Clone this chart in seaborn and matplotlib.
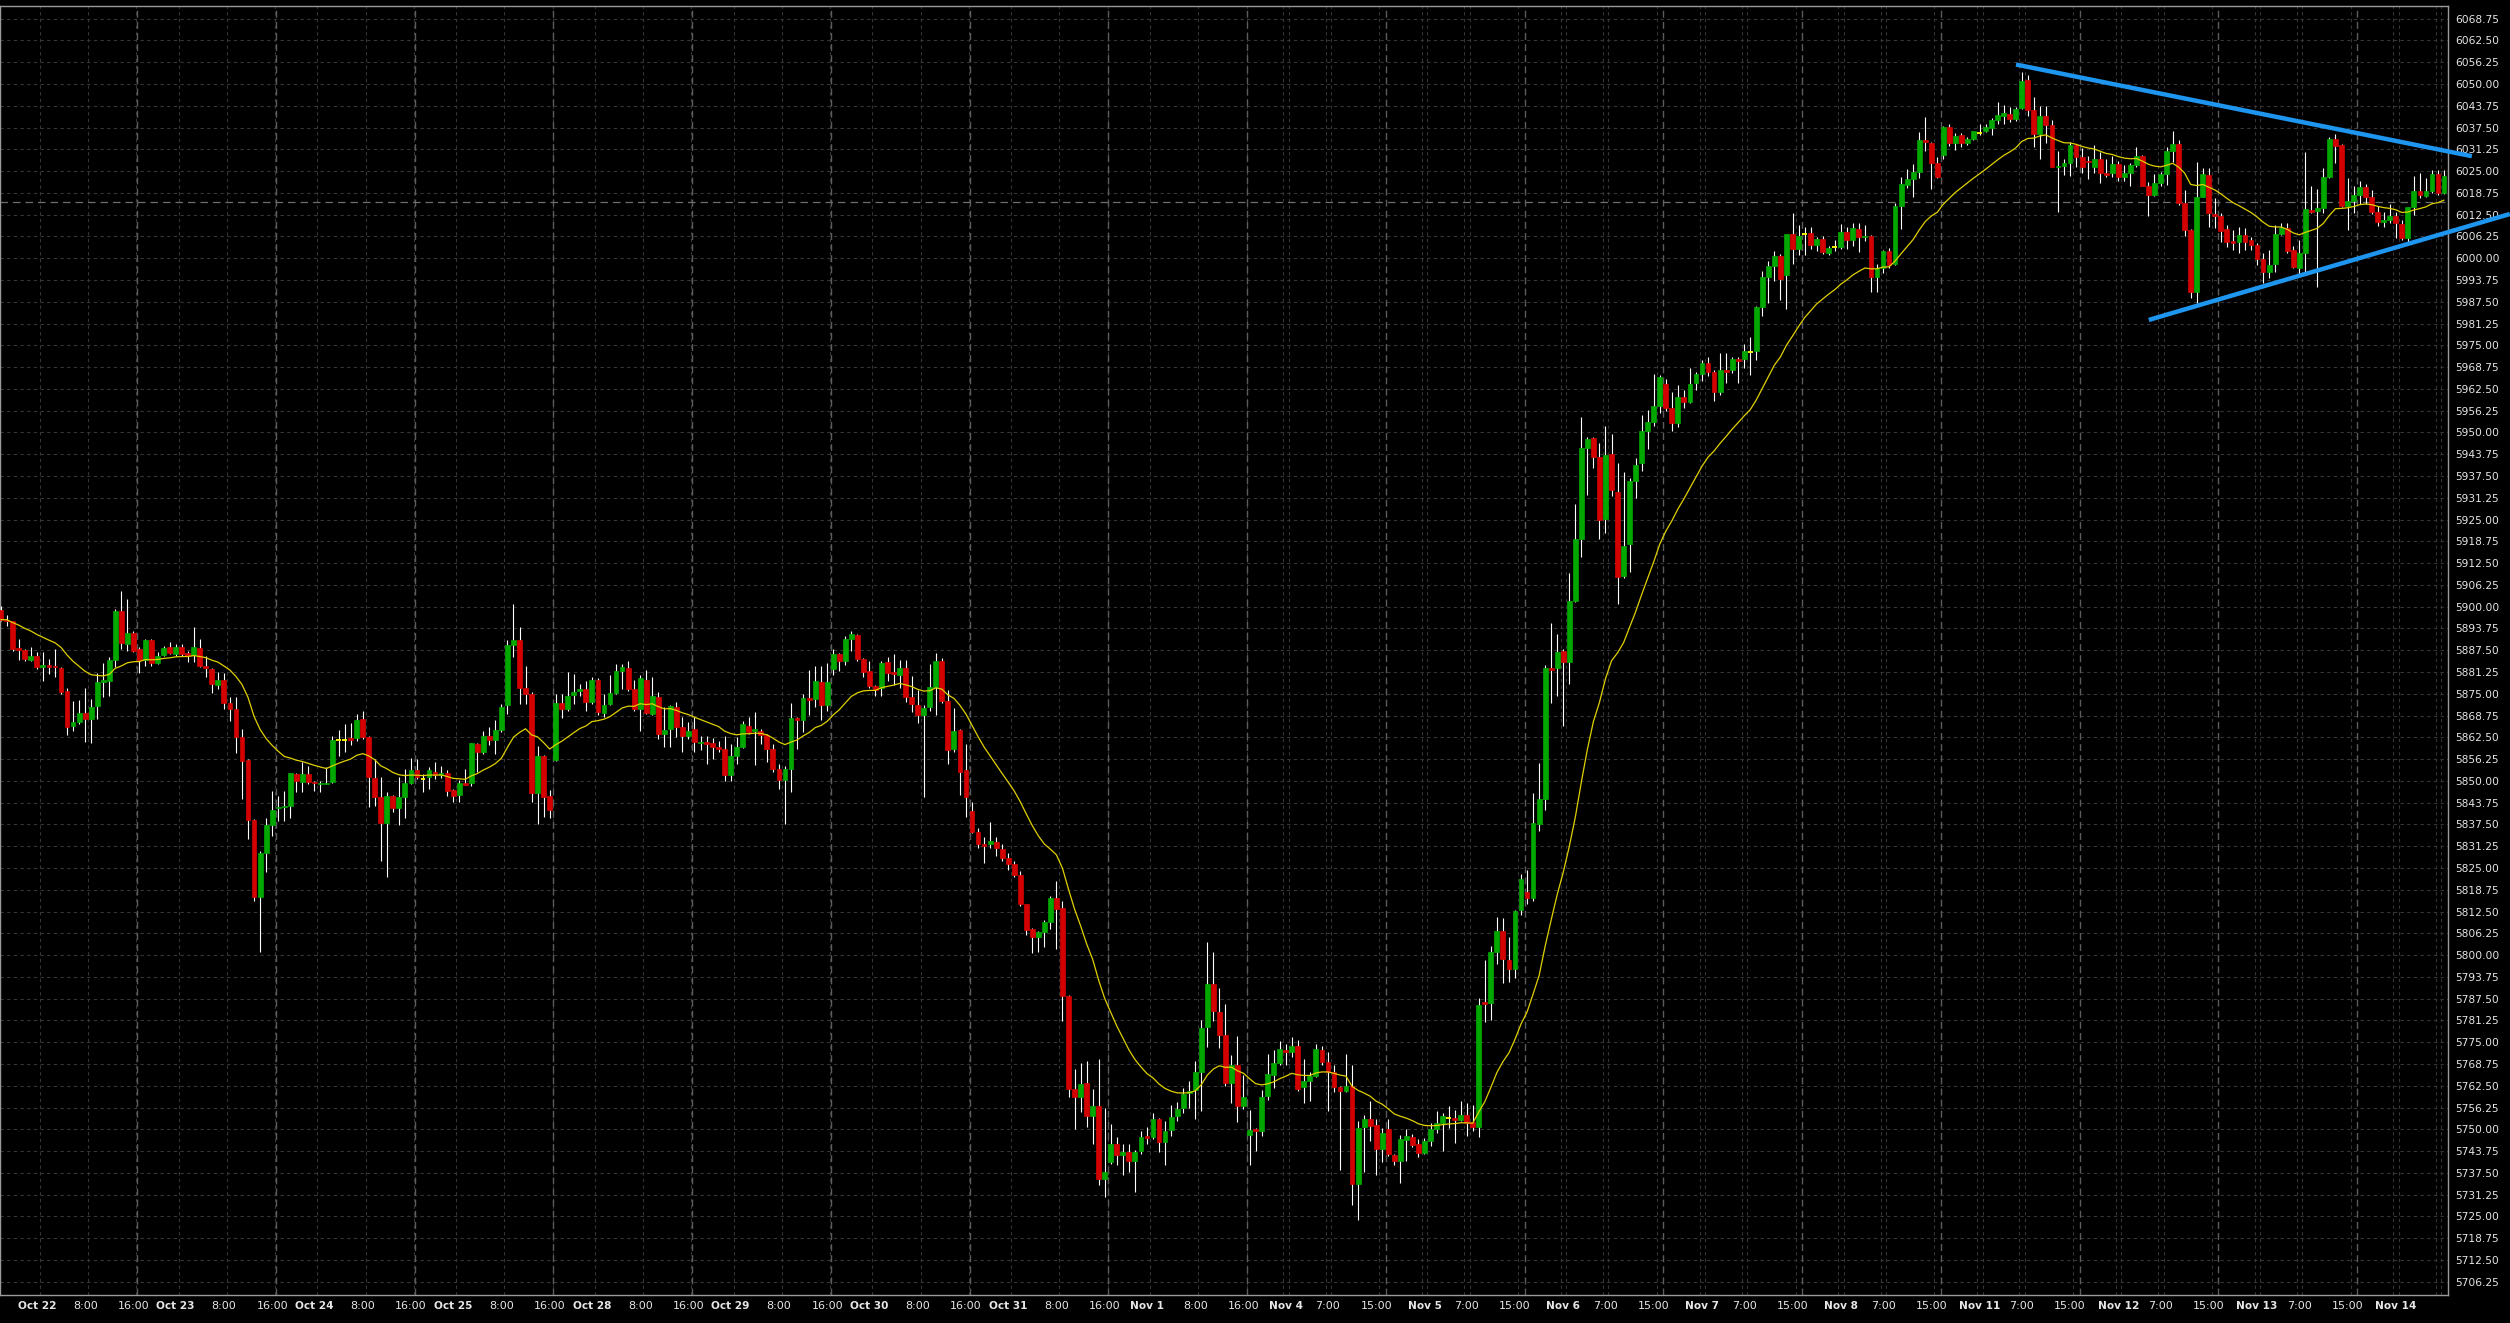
import numpy as np
import pandas as pd
import matplotlib
matplotlib.use("Agg")
import matplotlib.pyplot as plt
import seaborn as sns

sns.set_theme(style="dark")
plt.rcParams['font.family'] = ['DejaVu Sans']

# === DATA: hourly bars ===
opens = [
    5899.0, 5896.3, 5895.8, 5888.1, 5887.6, 5884.8, 5885.9, 5882.6, 5883.2, 5883.1,
    5882.4, 5875.9, 5865.8, 5867.0, 5869.5, 5867.7, 5871.6, 5878.5, 5878.7, 5884.7,
    5898.8, 5889.3, 5892.4, 5887.8, 5884.7, 5890.5, 5883.8, 5886.1, 5888.5, 5886.4,
    5888.5, 5886.7, 5886.1, 5888.1, 5883.1, 5882.1, 5877.6, 5878.9, 5872.4, 5870.6,
    5862.5, 5856.0, 5838.8, 5816.7, 5829.2, 5837.4, 5842.1, 5842.4, 5842.9, 5852.0,
    5849.7, 5852.0, 5849.7, 5849.1, 5849.1, 5849.7, 5861.8, 5861.8, 5862.3, 5862.3,
    5867.7, 5862.5, 5850.8, 5845.4, 5837.8, 5845.7, 5842.2, 5845.4, 5849.3, 5853.1,
    5850.6, 5851.1, 5852.7, 5851.6, 5852.2, 5847.3, 5846.0, 5849.4, 5849.4, 5860.7,
    5858.3, 5862.9, 5861.8, 5864.7, 5871.7, 5888.9, 5890.5, 5876.6, 5875.0, 5846.6,
    5857.1, 5845.6, 5856.1, 5872.3, 5870.7, 5874.7, 5875.8, 5876.3, 5872.6, 5879.1,
    5869.6, 5872.1, 5875.3, 5881.5, 5882.4, 5876.3, 5870.7, 5879.1, 5869.3, 5874.0,
    5863.5, 5865.0, 5871.2, 5865.4, 5862.9, 5865.0, 5860.9, 5861.3, 5860.9, 5859.7,
    5859.2, 5851.8, 5857.1, 5859.7, 5865.7, 5864.2, 5864.2, 5863.2, 5859.2, 5853.5,
    5850.3, 5853.5, 5868.0, 5867.5, 5873.8, 5873.6, 5878.4, 5871.7, 5882.0, 5886.4,
    5884.5, 5890.6, 5891.9, 5885.0, 5881.5, 5877.1, 5876.6, 5884.2, 5881.3, 5880.3,
    5882.4, 5874.1, 5871.8, 5868.9, 5871.3, 5876.9, 5884.5, 5872.9, 5859.2, 5864.7,
    5853.0, 5841.5, 5835.4, 5831.9, 5831.9, 5832.6, 5830.5, 5828.0, 5826.1, 5822.9,
    5814.6, 5807.5, 5805.1, 5806.6, 5809.4, 5816.4, 5813.5, 5788.3, 5761.6, 5759.2,
    5763.4, 5753.9, 5756.6, 5735.7, 5740.5, 5745.7, 5742.6, 5743.6, 5740.8, 5743.9,
    5748.2, 5747.8, 5753.1, 5746.3, 5749.9, 5753.9, 5756.0, 5760.4, 5761.3, 5766.5,
    5779.5, 5791.8, 5783.7, 5777.2, 5763.3, 5768.6, 5756.8, 5748.3, 5750.2, 5749.6,
    5759.7, 5765.7, 5769.0, 5772.7, 5772.1, 5773.9, 5762.1, 5763.8, 5765.2, 5772.8,
    5769.3, 5766.5, 5762.2, 5760.9, 5762.3, 5734.3, 5750.6, 5753.0, 5751.3, 5744.4,
    5750.1, 5742.5, 5740.8, 5747.0, 5747.8, 5745.8, 5743.2, 5746.7, 5750.1, 5751.8,
    5753.4, 5753.2, 5752.7, 5754.0, 5752.1, 5750.7, 5786.6, 5786.3, 5800.8, 5807.0,
    5798.5, 5796.1, 5813.0, 5818.2, 5816.3, 5837.7, 5844.7, 5882.4, 5882.4, 5887.2,
    5884.1, 5901.7, 5919.3, 5945.6, 5948.5, 5942.9, 5925.2, 5943.9, 5933.0, 5908.7,
    5917.9, 5936.1, 5941.1, 5950.5, 5953.0, 5957.5, 5964.0, 5957.0, 5952.7, 5960.3,
    5958.7, 5964.3, 5966.8, 5969.8, 5967.5, 5961.7, 5967.9, 5967.9, 5971.0, 5971.0,
    5973.2, 5973.5, 5985.9, 5994.5, 5997.9, 6000.7, 5995.3, 6006.9, 6002.6, 6007.0,
    6007.2, 6003.8, 6005.5, 6001.5, 6003.1, 6003.1, 6007.6, 6005.3, 6008.4, 6006.0,
    6006.4, 5994.5, 5997.2, 6002.2, 5998.3, 6015.1, 6021.1, 6022.7, 6024.8, 6033.9,
    6033.1, 6027.2, 6029.7, 6037.6, 6033.0, 6035.4, 6033.1, 6034.2, 6036.0, 6036.4,
    6037.4, 6039.7, 6040.9, 6041.4, 6040.0, 6043.1, 6051.2, 6042.5, 6035.6, 6040.9,
    6038.2, 6026.1, 6026.6, 6027.2, 6032.5, 6029.0, 6027.9, 6026.3, 6028.5, 6024.6,
    6024.6, 6027.1, 6023.4, 6024.6, 6026.8, 6029.4, 6020.8, 6018.2, 6021.5, 6024.2,
    6030.8, 6032.8, 6015.8, 6008.1, 5990.4, 6017.7, 6023.9, 6012.7, 6012.2, 6008.4,
    6005.0, 6004.8, 6006.7, 6005.1, 6003.8, 5999.7, 5996.2, 5998.4, 6007.0, 6008.6,
    6002.4, 5997.1, 6001.4, 6013.9, 6013.7, 6014.5, 6023.4, 6034.2, 6032.5, 6015.0,
    6016.3, 6018.2, 6020.4, 6017.5, 6013.4, 6010.5, 6011.0, 6012.2, 6009.8, 6005.7,
    6014.6, 6019.4, 6018.0, 6019.4, 6024.2, 6018.8,
]
highs = [
    5900.3, 5897.7, 5895.9, 5890.7, 5887.8, 5888.3, 5886.9, 5886.9, 5885.0, 5887.8,
    5882.6, 5876.8, 5873.0, 5873.2, 5876.6, 5873.5, 5881.1, 5883.7, 5885.6, 5899.3,
    5904.4, 5902.2, 5893.1, 5888.3, 5890.7, 5890.7, 5886.9, 5888.8, 5890.0, 5889.3,
    5889.3, 5887.4, 5894.3, 5890.7, 5885.9, 5882.3, 5881.4, 5881.1, 5874.0, 5874.0,
    5864.9, 5856.2, 5839.0, 5829.9, 5839.5, 5847.2, 5845.7, 5847.2, 5852.4, 5852.4,
    5855.3, 5854.3, 5850.0, 5850.0, 5853.9, 5863.0, 5864.7, 5866.3, 5866.5, 5869.2,
    5870.1, 5863.0, 5856.3, 5851.2, 5846.7, 5845.9, 5851.0, 5853.4, 5856.7, 5856.3,
    5852.0, 5854.0, 5855.4, 5854.4, 5853.0, 5847.8, 5850.4, 5853.5, 5860.9, 5861.0,
    5864.2, 5865.4, 5867.5, 5872.1, 5890.3, 5900.7, 5894.2, 5882.9, 5875.5, 5860.0,
    5857.3, 5847.3, 5875.0, 5875.0, 5881.2, 5880.8, 5877.9, 5878.6, 5879.8, 5879.5,
    5875.0, 5880.3, 5883.6, 5883.6, 5884.3, 5878.9, 5880.3, 5881.7, 5879.8, 5875.5,
    5871.2, 5871.7, 5872.6, 5868.3, 5866.9, 5868.3, 5863.0, 5863.0, 5862.3, 5861.6,
    5863.0, 5860.7, 5862.6, 5867.1, 5868.3, 5869.8, 5865.0, 5863.4, 5860.7, 5854.9,
    5854.4, 5872.3, 5868.3, 5875.0, 5881.7, 5882.9, 5883.1, 5883.9, 5887.9, 5886.8,
    5891.7, 5893.1, 5892.2, 5885.3, 5884.5, 5877.5, 5884.5, 5885.7, 5886.4, 5884.7,
    5884.7, 5880.0, 5876.0, 5871.8, 5883.6, 5886.8, 5885.3, 5876.2, 5870.8, 5865.0,
    5860.7, 5843.9, 5836.4, 5834.0, 5838.1, 5833.9, 5832.0, 5829.4, 5827.0, 5824.1,
    5814.8, 5807.7, 5806.9, 5810.2, 5816.9, 5821.4, 5815.4, 5788.5, 5767.4, 5769.0,
    5769.7, 5761.6, 5770.3, 5756.0, 5751.4, 5747.9, 5745.7, 5745.7, 5744.0, 5749.6,
    5750.7, 5754.7, 5753.4, 5752.5, 5757.0, 5757.9, 5761.9, 5764.0, 5769.5, 5781.3,
    5803.7, 5800.9, 5790.6, 5786.0, 5771.4, 5776.7, 5765.5, 5755.6, 5750.4, 5761.2,
    5771.6, 5772.9, 5775.3, 5774.5, 5776.4, 5775.6, 5770.3, 5766.5, 5774.5, 5773.8,
    5772.2, 5768.6, 5762.4, 5771.6, 5768.6, 5752.5, 5754.2, 5758.2, 5753.0, 5750.4,
    5753.1, 5742.9, 5748.5, 5750.1, 5748.7, 5747.3, 5747.6, 5751.8, 5755.4, 5754.7,
    5756.6, 5755.6, 5758.2, 5757.6, 5756.9, 5787.7, 5798.7, 5802.5, 5810.9, 5810.6,
    5805.3, 5813.0, 5823.3, 5824.3, 5846.4, 5855.2, 5883.4, 5895.3, 5892.1, 5888.0,
    5909.7, 5929.4, 5954.4, 5948.8, 5948.8, 5947.1, 5952.0, 5949.5, 5941.1, 5938.7,
    5936.8, 5942.8, 5954.9, 5956.5, 5966.8, 5966.5, 5965.4, 5961.7, 5963.6, 5962.2,
    5968.5, 5967.5, 5970.8, 5971.6, 5967.8, 5972.7, 5972.9, 5971.6, 5971.6, 5975.4,
    5977.5, 5986.3, 5996.4, 5999.3, 6002.2, 6001.2, 6007.1, 6013.0, 6009.5, 6009.1,
    6009.1, 6006.0, 6006.5, 6003.6, 6005.2, 6009.8, 6009.1, 6010.0, 6010.0, 6009.6,
    6006.6, 5998.3, 6002.4, 6002.9, 6015.8, 6023.2, 6025.6, 6027.0, 6036.1, 6040.6,
    6033.4, 6029.1, 6038.0, 6038.5, 6036.0, 6036.0, 6034.7, 6036.6, 6038.5, 6038.5,
    6040.3, 6044.9, 6044.0, 6043.5, 6043.3, 6053.6, 6052.7, 6046.2, 6043.8, 6043.8,
    6039.7, 6030.7, 6028.5, 6033.5, 6032.9, 6031.6, 6029.4, 6032.5, 6030.6, 6028.4,
    6029.4, 6027.8, 6026.8, 6027.3, 6031.9, 6029.7, 6022.0, 6024.2, 6024.9, 6032.0,
    6036.6, 6033.8, 6019.6, 6008.3, 6027.7, 6025.8, 6025.8, 6017.2, 6012.9, 6009.6,
    6008.1, 6009.1, 6008.6, 6006.1, 6004.5, 6001.4, 6002.4, 6009.6, 6010.0, 6010.2,
    6003.4, 6005.2, 6030.6, 6020.6, 6020.0, 6025.8, 6034.7, 6035.7, 6032.7, 6023.0,
    6020.6, 6022.3, 6021.3, 6019.6, 6014.9, 6013.4, 6015.6, 6013.4, 6011.0, 6014.8,
    6023.6, 6024.6, 6023.0, 6025.2, 6025.2, 6025.2,
]
lows = [
    5896.0, 5894.5, 5887.4, 5884.7, 5884.3, 5884.5, 5882.1, 5878.7, 5880.7, 5879.7,
    5874.9, 5863.2, 5864.4, 5866.3, 5861.3, 5861.0, 5867.7, 5874.0, 5874.4, 5882.6,
    5887.8, 5887.4, 5886.9, 5880.9, 5883.1, 5883.1, 5883.5, 5885.9, 5886.4, 5885.9,
    5885.9, 5884.0, 5884.0, 5882.6, 5879.7, 5875.2, 5876.4, 5870.6, 5867.3, 5857.9,
    5844.8, 5833.3, 5815.6, 5800.8, 5824.0, 5834.3, 5838.4, 5838.4, 5839.5, 5846.7,
    5846.7, 5849.1, 5847.2, 5846.7, 5849.0, 5849.5, 5857.2, 5858.2, 5860.4, 5861.5,
    5862.0, 5842.4, 5842.9, 5826.9, 5822.3, 5841.0, 5837.4, 5839.5, 5849.1, 5850.5,
    5846.9, 5847.7, 5850.6, 5850.9, 5845.8, 5843.9, 5843.9, 5848.7, 5848.5, 5852.7,
    5857.8, 5860.2, 5857.8, 5864.0, 5869.3, 5885.7, 5872.1, 5872.1, 5843.9, 5837.5,
    5839.6, 5839.3, 5855.8, 5868.0, 5870.2, 5872.1, 5874.5, 5870.2, 5872.1, 5869.0,
    5868.3, 5871.7, 5875.0, 5876.5, 5875.7, 5870.2, 5864.2, 5869.3, 5869.0, 5862.1,
    5859.7, 5859.7, 5862.6, 5858.3, 5862.1, 5858.3, 5859.0, 5854.9, 5856.4, 5858.3,
    5850.1, 5850.1, 5854.9, 5859.5, 5863.5, 5854.6, 5860.7, 5855.4, 5852.5, 5847.7,
    5837.5, 5846.8, 5859.2, 5864.0, 5868.8, 5871.2, 5867.4, 5870.2, 5880.3, 5881.5,
    5883.4, 5887.4, 5884.3, 5879.7, 5876.6, 5874.5, 5874.5, 5878.7, 5877.6, 5876.6,
    5872.7, 5869.7, 5866.5, 5845.4, 5870.2, 5868.9, 5872.3, 5854.9, 5858.3, 5845.9,
    5839.6, 5835.0, 5830.7, 5826.5, 5830.7, 5828.4, 5827.0, 5824.5, 5822.3, 5814.0,
    5805.9, 5800.6, 5800.9, 5802.4, 5807.5, 5801.7, 5781.1, 5759.2, 5750.0, 5754.9,
    5750.7, 5745.7, 5734.1, 5730.5, 5740.0, 5739.7, 5736.8, 5737.8, 5732.0, 5743.0,
    5745.7, 5747.3, 5743.6, 5739.9, 5748.2, 5752.5, 5754.8, 5756.0, 5753.1, 5755.2,
    5773.5, 5781.1, 5773.3, 5762.3, 5757.6, 5752.1, 5755.8, 5739.9, 5743.7, 5748.0,
    5758.5, 5761.9, 5768.4, 5768.6, 5770.8, 5760.9, 5757.6, 5758.2, 5765.0, 5768.6,
    5755.4, 5760.7, 5738.4, 5760.7, 5728.2, 5724.1, 5737.7, 5746.7, 5737.0, 5740.6,
    5742.3, 5739.7, 5734.6, 5741.0, 5745.0, 5742.0, 5742.9, 5745.1, 5748.9, 5743.7,
    5750.4, 5746.1, 5752.3, 5748.0, 5749.5, 5747.7, 5780.8, 5781.4, 5797.5, 5791.9,
    5792.3, 5793.3, 5811.6, 5814.8, 5815.4, 5835.5, 5841.6, 5872.4, 5874.5, 5865.8,
    5877.7, 5901.3, 5914.3, 5932.2, 5939.7, 5919.3, 5921.2, 5931.9, 5900.7, 5908.3,
    5910.1, 5931.2, 5939.0, 5945.3, 5951.9, 5955.6, 5956.1, 5950.5, 5951.6, 5957.0,
    5958.5, 5962.2, 5964.9, 5966.2, 5959.1, 5960.8, 5964.1, 5967.2, 5964.3, 5968.4,
    5966.5, 5970.8, 5983.5, 5987.3, 5993.5, 5988.1, 5985.4, 5998.3, 6001.0, 6001.0,
    6002.6, 6002.0, 6001.2, 6001.0, 6002.2, 6002.6, 6002.6, 6003.6, 6001.7, 6005.0,
    5990.4, 5990.2, 5995.7, 5997.3, 5998.0, 6008.4, 6020.3, 6017.7, 6023.0, 6030.7,
    6019.9, 6023.0, 6028.5, 6032.3, 6031.1, 6031.8, 6032.6, 6034.0, 6035.4, 6036.1,
    6035.5, 6038.5, 6038.5, 6039.0, 6039.3, 6042.9, 6040.9, 6032.0, 6028.5, 6033.0,
    6026.1, 6013.4, 6024.0, 6023.7, 6026.3, 6024.6, 6022.7, 6024.4, 6021.7, 6023.3,
    6023.4, 6022.3, 6022.3, 6020.8, 6026.3, 6020.6, 6012.0, 6018.0, 6020.8, 6021.0,
    6027.7, 6015.3, 6006.4, 5988.5, 5987.1, 6017.5, 6008.9, 6008.6, 6004.8, 6003.1,
    6002.4, 6001.6, 6002.4, 6002.4, 5998.1, 5992.8, 5994.2, 5996.2, 6006.7, 6001.4,
    5997.1, 5995.5, 5996.2, 6012.9, 5991.7, 6012.9, 6022.9, 6027.3, 6014.8, 6008.1,
    6012.9, 6015.6, 6015.6, 6012.7, 6009.3, 6009.0, 6010.2, 6005.7, 6005.3, 6004.8,
    6012.4, 6017.2, 6017.7, 6018.8, 6018.1, 6018.4,
]
closes = [
    5896.3, 5895.8, 5887.8, 5887.6, 5885.0, 5885.9, 5882.6, 5883.3, 5882.8, 5882.6,
    5875.6, 5865.5, 5867.0, 5869.5, 5867.7, 5871.1, 5878.3, 5878.9, 5884.7, 5898.8,
    5889.6, 5892.4, 5887.2, 5884.7, 5890.5, 5883.7, 5885.9, 5888.1, 5886.7, 5888.5,
    5886.4, 5885.9, 5888.5, 5883.1, 5882.3, 5877.8, 5878.9, 5872.4, 5870.6, 5862.5,
    5855.8, 5838.8, 5816.7, 5829.2, 5837.3, 5841.6, 5842.6, 5842.9, 5852.2, 5850.0,
    5852.0, 5849.7, 5849.3, 5849.4, 5849.4, 5861.8, 5861.8, 5861.8, 5861.8, 5867.5,
    5862.5, 5851.2, 5845.4, 5837.8, 5845.7, 5842.2, 5845.4, 5849.3, 5853.1, 5851.2,
    5850.6, 5853.0, 5851.6, 5852.2, 5847.1, 5845.6, 5849.4, 5848.9, 5860.9, 5858.3,
    5862.9, 5861.8, 5864.7, 5871.2, 5889.1, 5890.5, 5876.7, 5875.0, 5846.6, 5857.1,
    5845.3, 5841.7, 5872.3, 5870.7, 5874.5, 5875.5, 5876.3, 5872.6, 5879.1, 5869.9,
    5871.7, 5875.3, 5881.5, 5882.7, 5876.5, 5870.7, 5879.5, 5869.6, 5874.3, 5863.5,
    5864.7, 5871.4, 5865.4, 5862.9, 5864.2, 5861.1, 5861.3, 5860.7, 5859.7, 5859.2,
    5851.8, 5857.1, 5859.7, 5866.2, 5864.0, 5865.0, 5863.2, 5859.2, 5853.5, 5850.3,
    5853.5, 5868.0, 5867.5, 5873.8, 5873.3, 5878.6, 5871.9, 5878.4, 5886.4, 5884.5,
    5890.8, 5892.2, 5885.0, 5881.3, 5877.1, 5876.2, 5883.9, 5881.0, 5880.8, 5882.4,
    5874.1, 5872.0, 5868.9, 5871.0, 5876.9, 5884.5, 5872.9, 5858.9, 5864.4, 5852.6,
    5845.4, 5835.4, 5831.9, 5831.4, 5832.8, 5830.7, 5828.0, 5826.2, 5823.1, 5814.6,
    5807.2, 5805.1, 5806.6, 5809.4, 5816.4, 5813.3, 5788.3, 5761.6, 5759.2, 5763.1,
    5753.9, 5756.6, 5735.7, 5737.8, 5745.7, 5742.6, 5743.6, 5740.8, 5743.6, 5747.8,
    5747.5, 5753.1, 5746.3, 5749.6, 5753.6, 5755.8, 5760.2, 5761.0, 5766.5, 5779.2,
    5791.8, 5784.0, 5777.2, 5763.3, 5768.6, 5756.8, 5759.3, 5749.9, 5749.6, 5759.3,
    5765.9, 5769.0, 5773.1, 5772.1, 5773.9, 5761.7, 5763.8, 5765.2, 5773.1, 5769.3,
    5766.5, 5762.2, 5760.9, 5762.3, 5734.3, 5750.4, 5753.0, 5751.1, 5744.4, 5749.0,
    5743.0, 5740.8, 5747.3, 5748.2, 5745.6, 5743.2, 5746.6, 5750.1, 5751.8, 5753.7,
    5753.4, 5752.7, 5754.0, 5751.8, 5750.7, 5785.6, 5786.0, 5800.8, 5807.0, 5799.0,
    5796.1, 5812.6, 5821.9, 5816.3, 5837.9, 5844.7, 5882.4, 5881.8, 5886.9, 5884.1,
    5901.7, 5919.3, 5945.6, 5948.1, 5942.9, 5924.9, 5943.6, 5933.6, 5908.4, 5917.4,
    5936.1, 5940.8, 5950.5, 5953.0, 5957.5, 5966.0, 5957.0, 5952.7, 5960.3, 5958.7,
    5964.0, 5966.8, 5969.8, 5967.5, 5961.7, 5967.9, 5967.5, 5971.0, 5970.6, 5973.4,
    5973.2, 5985.9, 5994.5, 5997.9, 6000.7, 5994.0, 6006.9, 6002.6, 6006.5, 6007.0,
    6003.8, 6005.5, 6001.9, 6002.9, 6003.1, 6007.6, 6005.3, 6008.7, 6006.2, 6006.4,
    5994.5, 5997.2, 6002.2, 5998.1, 6015.1, 6021.3, 6022.7, 6024.8, 6033.9, 6033.5,
    6027.3, 6023.4, 6037.6, 6033.1, 6035.2, 6033.1, 6034.2, 6036.4, 6036.0, 6037.8,
    6039.7, 6041.2, 6041.6, 6040.0, 6042.8, 6051.0, 6042.5, 6035.6, 6040.9, 6038.3,
    6026.3, 6026.6, 6027.2, 6032.5, 6029.0, 6026.3, 6027.5, 6028.5, 6024.6, 6024.0,
    6027.1, 6023.4, 6024.6, 6026.8, 6029.4, 6020.8, 6018.2, 6021.5, 6024.2, 6030.8,
    6032.8, 6015.8, 6008.1, 5990.4, 6017.7, 6024.2, 6012.9, 6012.2, 6007.8, 6004.8,
    6004.5, 6006.7, 6004.8, 6003.8, 5999.8, 5996.2, 5998.1, 6007.0, 6008.6, 6002.2,
    5997.4, 6001.6, 6014.1, 6013.4, 6014.5, 6023.4, 6034.2, 6032.3, 6015.0, 6016.3,
    6018.2, 6020.4, 6017.5, 6013.4, 6010.5, 6011.0, 6012.2, 6010.2, 6005.7, 6014.6,
    6019.4, 6018.2, 6019.4, 6024.2, 6018.8, 6023.6,
]

# sessions / axis labels
day_names = ['Oct 22', 'Oct 23', 'Oct 24', 'Oct 25', 'Oct 28', 'Oct 29', 'Oct 30',
             'Oct 31', 'Nov 1', 'Nov 4', 'Nov 5', 'Nov 6', 'Nov 7', 'Nov 8',
             'Nov 11', 'Nov 12', 'Nov 13', 'Nov 14']
hours_before_dst = ['8:00', '16:00']
hours_after_dst = ['7:00', '15:00']
first_dst_day = 'Nov 4'
first_day_bar = 6
bars_per_day = 23

bid_price = 6016.1

# trend lines drawn by hand on the chart (bar index, price)
upper_line_x = [334.05, 409.6]
upper_line_y = [6055.6, 6029.3]
lower_line_x = [356.05, 415.9]
lower_line_y = [5982.3, 6012.7]

# === COLORES ===
BG = '#000000'
GREEN = '#00a800'
RED = '#d40000'
DOJI = '#ffff00'
MA_COLOR = '#e0d000'
GRID = '#363636'
SESSION = '#5c5c5c'
TREND = '#1e96f0'
TEXT = '#e6e6e6'

df = pd.DataFrame({'open': opens, 'high': highs, 'low': lows, 'close': closes})
df['bar'] = np.arange(len(df))
df['ma'] = df['close'].ewm(span=20, adjust=False).mean()

W, H = 2510, 1323
fig = plt.figure(figsize=(W / 100, H / 100), dpi=100, facecolor=BG)
ax = fig.add_axes([0, 28 / H, 2448 / W, 1289 / H])
ax.set_facecolor(BG)
ax.grid(False)

ax.set_xlim(-0.11, 405.65)
ax.set_ylim(5702.46, 6072.40)

# grid horizontal
price_ticks = np.arange(5706.25, 6068.76, 6.25)
for p in price_ticks:
    ax.axhline(p, color=GRID, linestyle=(0, (3, 3)), linewidth=0.8, zorder=1)

# grid vertical + labels
tick_pos, tick_txt, tick_bold = [], [], []
dst = False
for k, name in enumerate(day_names):
    d = first_day_bar + bars_per_day * k
    if name == first_dst_day:
        dst = True
    hours = hours_after_dst if dst else hours_before_dst
    offs = [0] + ([7, 15] if dst else [8, 16])
    for off, txt in zip(offs, [name] + hours):
        pos = d + off
        if pos > 405.5:
            continue
        ax.axvline(pos + 0.5, color=GRID, linestyle=(0, (3, 3)), linewidth=0.8, zorder=1)
        if dst and off != 15:
            ax.axvline(pos - 0.4, color=GRID, linestyle=(0, (3, 3)), linewidth=0.8, zorder=1)
        # la etiqueta no cabe junto al borde derecho
        if pos > 400:
            continue
        tick_pos.append(pos)
        tick_txt.append(txt)
        tick_bold.append(off == 0)
    # separador de sesión
    sess = d + 16.6
    if sess < 405.5:
        ax.axvline(sess, color=SESSION, linestyle=(0, (5, 3)), linewidth=1.0, zorder=1)
ax.axvline(first_day_bar - 6.4, color=SESSION, linestyle=(0, (5, 3)), linewidth=1.0, zorder=1)

ax.axhline(bid_price, color='#6e6e6e', linestyle=(0, (6, 4)), linewidth=0.9, zorder=2)

# === VELAS ===
up = df['close'] > df['open']
down = df['close'] < df['open']
doji = df['close'] == df['open']

ax.vlines(df['bar'], df['low'], df['high'], color='white', linewidth=0.8, zorder=3)
ax.bar(df.loc[up, 'bar'], (df['close'] - df['open'])[up], bottom=df.loc[up, 'open'],
       width=0.8, color=GREEN, edgecolor=GREEN, linewidth=0.5, zorder=4)
ax.bar(df.loc[down, 'bar'], (df['open'] - df['close'])[down], bottom=df.loc[down, 'close'],
       width=0.8, color=RED, edgecolor=RED, linewidth=0.5, zorder=4)
ax.hlines(df.loc[doji, 'close'], df.loc[doji, 'bar'] - 0.4, df.loc[doji, 'bar'] + 0.4,
          color=DOJI, linewidth=1.3, zorder=4)

# media móvil
sns.lineplot(data=df, x='bar', y='ma', ax=ax, color=MA_COLOR, linewidth=0.9,
             zorder=5, legend=False)

# líneas de tendencia
for xs, ys in [(upper_line_x, upper_line_y), (lower_line_x, lower_line_y)]:
    ax.plot(xs, ys, color=TREND, linewidth=3.2, solid_capstyle='butt',
            clip_on=False, zorder=6)

# ejes
ax.set_xlabel('')
ax.set_ylabel('')
ax.yaxis.tick_right()
ax.set_yticks(price_ticks)
ax.set_yticklabels([f'{p:.2f}' for p in price_ticks])
ax.tick_params(axis='y', colors=TEXT, labelsize=7.7, length=0, pad=5)
ax.set_xticks(tick_pos)
ax.set_xticklabels(tick_txt)
ax.tick_params(axis='x', colors=TEXT, labelsize=8, length=0, pad=4)
for lbl, bold in zip(ax.get_xticklabels(), tick_bold):
    if bold:
        lbl.set_fontweight('bold')
        lbl.set_fontsize(7.6)

for side in ['left', 'top', 'right', 'bottom']:
    ax.spines[side].set_visible(True)
    ax.spines[side].set_color('#9a9a9a')
    ax.spines[side].set_linewidth(1.0)

fig.savefig('out.png', dpi=100, facecolor=BG)
